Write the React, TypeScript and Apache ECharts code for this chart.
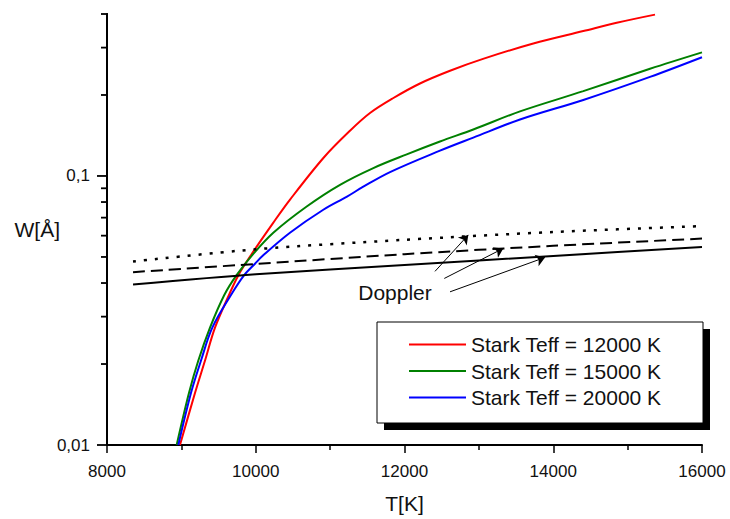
import React, { useEffect, useRef } from 'react';
import * as echarts from 'echarts';

// ---- data ----
const xTickLabels = [8000, 10000, 12000, 14000, 16000];
const yMajorTicks = [0.01, 0.1];
const yMinorTicks = [0.02, 0.03, 0.04, 0.05, 0.06, 0.07, 0.08, 0.09, 0.2, 0.3, 0.4];

const legendNames = ['Stark Teff = 12000 K', 'Stark Teff = 15000 K', 'Stark Teff = 20000 K'];

const redT = [8981, 9183, 9318, 9452, 9640, 9765, 9946, 10232, 10461, 10918, 11267, 11536, 11845, 12208, 12612, 13056, 13732, 14404, 14853, 15368];
const redW = [0.0100, 0.0156, 0.0206, 0.0273, 0.0361, 0.0427, 0.0513, 0.0668, 0.0817, 0.1174, 0.1473, 0.1714, 0.1945, 0.2207, 0.2461, 0.2724, 0.3108, 0.3456, 0.3710, 0.3978];

const greenT = [8937, 9102, 9228, 9385, 9577, 9740, 9967, 10236, 10685, 11133, 11581, 12030, 12477, 12925, 13553, 14404, 15301, 16000];
const greenW = [0.0100, 0.0156, 0.0206, 0.0273, 0.0361, 0.0427, 0.0513, 0.0615, 0.0770, 0.0927, 0.1070, 0.1203, 0.1343, 0.1489, 0.1738, 0.2067, 0.2503, 0.2880];

const blueT = [8959, 9129, 9264, 9416, 9667, 9842, 9990, 10097, 10460, 10908, 11227, 11446, 11805, 12477, 12925, 13553, 14404, 15301, 16000];
const blueW = [0.0100, 0.0156, 0.0206, 0.0273, 0.0361, 0.0427, 0.0472, 0.0506, 0.0615, 0.0749, 0.0838, 0.0912, 0.1034, 0.1242, 0.1389, 0.1621, 0.1917, 0.2335, 0.2763];

const dopplerT = [8350, 10000, 12000, 14000, 16000];
const dopplerSolidW = [0.0395, 0.0431, 0.0467, 0.0504, 0.0545];
const dopplerDashedW = [0.0439, 0.0471, 0.0512, 0.0550, 0.0585];
const dopplerDottedW = [0.0481, 0.0534, 0.0579, 0.0619, 0.0651];

const arrowStartT = [12410, 12535, 12612];
const arrowStartW = [0.0442, 0.0416, 0.0371];
const arrowEndT = [12858, 13328, 13889];
const arrowEndW = [0.0604, 0.0538, 0.0498];

const FONT = '"Liberation Sans", Arial, sans-serif';
const INK = '#111111';

const zip = (xs: number[], ys: number[]) => xs.map((x, i) => [x, ys[i]]);

export default function App() {
  const ref = useRef<HTMLDivElement>(null);

  useEffect(() => {
    if (!ref.current) return;
    const chart = echarts.init(ref.current, undefined, { renderer: 'svg' });

    const xMin = xTickLabels[0];
    const xMax = xTickLabels[xTickLabels.length - 1];
    const yMin = 0.01;
    const yMax = 0.4;

    const arrows = arrowStartT.map((t, i) => [
      { coord: [t, arrowStartW[i]], symbol: 'none' },
      { coord: [arrowEndT[i], arrowEndW[i]], symbol: 'arrow' },
    ]);

    // y-axis ticks placed through the log axis scale, drawn as thin filled bars
    const tickSeries = (values: number[], len: number) => ({
      type: 'custom',
      clip: false,
      z: 6,
      data: values.map((v) => [xMin, v]),
      renderItem: (_p: any, api: any) => {
        const pt = api.coord([api.value(0), api.value(1)]);
        return {
          type: 'rect',
          shape: { x: pt[0] - len, y: pt[1] - 0.9, width: len + 1, height: 1.8 },
          style: { fill: '#000000' },
        };
      },
    });

    const lineSeries = (name: string, color: string, xs: number[], ys: number[]) => ({
      name,
      type: 'line',
      color,
      data: zip(xs, ys),
      symbol: 'none',
      smooth: 0.35,
      clip: true,
      lineStyle: { color, width: 2 },
    });

    const option: any = {
      animation: false,
      grid: { left: 107, top: 14, width: 595, height: 438.5 },
      xAxis: {
        type: 'value',
        min: xMin,
        max: xMax,
        interval: 2000,
        name: 'T[K]',
        nameLocation: 'middle',
        nameGap: 48,
        nameMoveOverlap: false,
        nameTextStyle: { fontFamily: FONT, fontSize: 21, color: INK },
        axisLine: { lineStyle: { color: '#000', width: 2 } },
        axisTick: { length: 8, lineStyle: { color: '#000', width: 1.5 } },
        minorTick: { show: true, splitNumber: 2, length: 5, lineStyle: { color: '#000', width: 1.5 } },
        splitLine: { show: false },
        minorSplitLine: { show: false },
        axisLabel: {
          margin: 18,
          fontFamily: FONT,
          fontSize: 17,
          color: INK,
          formatter: (v: number) => String(v),
        },
      },
      yAxis: {
        type: 'log',
        logBase: 10,
        min: yMin,
        max: yMax,
        name: 'W[Å]',
        nameLocation: 'middle',
        nameRotate: 0,
        nameGap: 47,
        nameMoveOverlap: false,
        nameTextStyle: { fontFamily: FONT, fontSize: 21, color: INK },
        axisLine: { show: true, lineStyle: { color: '#000', width: 2 } },
        axisTick: { show: false },
        splitLine: { show: false },
        axisLabel: {
          margin: 17,
          fontFamily: FONT,
          fontSize: 17,
          color: INK,
          formatter: (v: number) => {
            for (const m of yMajorTicks) {
              if (Math.abs(v - m) < m * 1e-6) return String(m).replace('.', ',');
            }
            return '';
          },
        },
      },
      legend: {
        data: legendNames,
        orient: 'vertical',
        left: 409,
        top: 334,
        padding: 0,
        icon: 'rect',
        itemWidth: 57,
        itemHeight: 2,
        itemGap: 5.5,
        selectedMode: false,
        z: 20,
        textStyle: { fontFamily: FONT, fontSize: 21, lineHeight: 21, color: INK },
      },
      graphic: [
        {
          type: 'rect',
          z: 10,
          shape: { x: 384, y: 329, width: 326, height: 101 },
          style: { fill: '#000' },
        },
        {
          type: 'rect',
          z: 11,
          shape: { x: 377, y: 322, width: 326, height: 101 },
          style: { fill: '#fff', stroke: '#000', lineWidth: 1 },
        },
        {
          type: 'text',
          z: 11,
          x: 395,
          y: 292,
          style: {
            text: 'Doppler',
            fontFamily: FONT,
            fontSize: 21,
            fill: INK,
            align: 'center',
            verticalAlign: 'middle',
          },
        },
      ],
      series: [
        tickSeries(yMajorTicks, 10),
        tickSeries(yMinorTicks, 6),
        lineSeries(legendNames[0], '#ff0000', redT, redW),
        lineSeries(legendNames[1], '#008000', greenT, greenW),
        lineSeries(legendNames[2], '#0000ff', blueT, blueW),
        {
          name: 'Doppler solid',
          type: 'line',
          data: zip(dopplerT, dopplerSolidW),
          symbol: 'none',
          smooth: 0.3,
          lineStyle: { color: '#000', width: 2, type: 'solid' },
          markLine: {
            silent: true,
            symbolSize: 9,
            label: { show: false },
            lineStyle: { color: '#000', width: 1, type: 'solid' },
            data: arrows,
          },
        },
        {
          name: 'Doppler dashed',
          type: 'line',
          data: zip(dopplerT, dopplerDashedW),
          symbol: 'none',
          smooth: 0.3,
          lineStyle: { color: '#000', width: 2, type: [12, 6] },
        },
        {
          name: 'Doppler dotted',
          type: 'line',
          data: zip(dopplerT, dopplerDottedW),
          symbol: 'none',
          smooth: 0.3,
          lineStyle: { color: '#000', width: 2.5, type: [3, 8] },
        },
      ],
    };

    chart.setOption(option);
    return () => chart.dispose();
  }, []);

  return (
    <div
      ref={ref}
      style={{ position: 'absolute', left: 0, top: 0, width: 730, height: 519, background: '#fff' }}
    />
  );
}
